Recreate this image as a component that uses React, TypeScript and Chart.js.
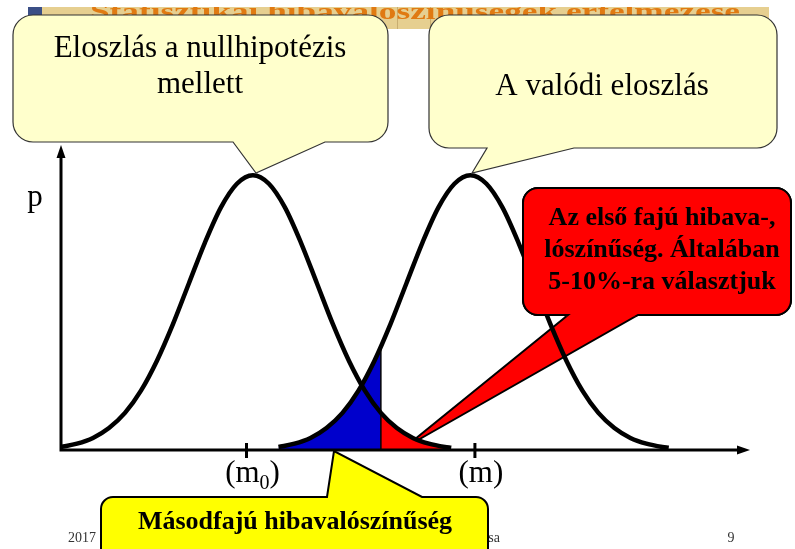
import React, { useEffect, useRef } from "react";
import { Chart, registerables } from "chart.js";

Chart.register(...registerables);

// ---- data (x in units of sigma, y = relative density) ----
const nullCurveX = [0, 0.25, 0.5, 0.75, 1, 1.25, 1.5, 1.75, 2, 2.25, 2.5, 2.75, 3, 3.25, 3.5, 3.75, 4, 4.25, 4.5, 4.75, 5, 5.25, 5.5, 5.75, 6, 6.1];
const nullCurveY = [0.011, 0.023, 0.044, 0.08, 0.135, 0.216, 0.325, 0.458, 0.607, 0.755, 0.883, 0.969, 1.0, 0.969, 0.883, 0.755, 0.607, 0.458, 0.325, 0.216, 0.135, 0.08, 0.044, 0.023, 0.011, 0.008];
const trueCurveX = [3.4, 3.65, 3.9, 4.15, 4.4, 4.65, 4.9, 5.15, 5.4, 5.65, 5.9, 6.15, 6.4, 6.65, 6.9, 7.15, 7.4, 7.65, 7.9, 8.15, 8.4, 8.65, 8.9, 9.15, 9.4, 9.5];
const trueCurveY = [0.011, 0.023, 0.044, 0.08, 0.135, 0.216, 0.325, 0.458, 0.607, 0.755, 0.883, 0.969, 1.0, 0.969, 0.883, 0.755, 0.607, 0.458, 0.325, 0.216, 0.135, 0.08, 0.044, 0.023, 0.011, 0.008];
const betaAreaX = [3.4, 3.65, 3.9, 4.15, 4.4, 4.65, 4.9, 5.0];
const betaAreaY = [0.011, 0.023, 0.044, 0.08, 0.135, 0.216, 0.325, 0.375];
const alphaAreaX = [5.0, 5.25, 5.5, 5.75, 6.0];
const alphaAreaY = [0.135, 0.08, 0.044, 0.023, 0.011];
const thresholdX = 5.0;
const thresholdTop = 0.375;
const tickValues = [2.9, 6.47];
const tickMain = ["(m", "(m"];
const tickSub = ["0", ""];
const xMax = 10.77;
const yMax = 1.11;

const headerTitle = "Statisztikai hibavalószínűségek értelmezése";
const nullLabel = ["Eloszlás a nullhipotézis", "mellett"];
const trueLabel = ["A valódi eloszlás"];
const alphaLabel = ["Az első fajú hibava-,", "lószínűség. Általában", "5-10%-ra választjuk"];
const betaLabel = ["Másodfajú hibavalószínűség"];
const yAxisLabel = "p";
const footerLeft = "2017";
const footerMid = "sa";
const footerRight = "9";

const SERIF = "'Liberation Serif', 'Times New Roman', serif";

function pts(xs: number[], ys: number[]) {
  return xs.map((x, i) => ({ x, y: ys[i] }));
}

function calloutPath(
  ctx: CanvasRenderingContext2D,
  x: number, y: number, w: number, h: number, r: number,
  side: "top" | "bottom", b1: number, b2: number, tx: number, ty: number
) {
  ctx.beginPath();
  ctx.moveTo(x + r, y);
  if (side === "top") {
    ctx.lineTo(b1, y);
    ctx.lineTo(tx, ty);
    ctx.lineTo(b2, y);
  }
  ctx.lineTo(x + w - r, y);
  ctx.arcTo(x + w, y, x + w, y + r, r);
  ctx.lineTo(x + w, y + h - r);
  ctx.arcTo(x + w, y + h, x + w - r, y + h, r);
  if (side === "bottom") {
    ctx.lineTo(b2, y + h);
    ctx.lineTo(tx, ty);
    ctx.lineTo(b1, y + h);
  }
  ctx.lineTo(x + r, y + h);
  ctx.arcTo(x, y + h, x, y + h - r, r);
  ctx.lineTo(x, y + r);
  ctx.arcTo(x, y, x + r, y, r);
  ctx.closePath();
}

const RED_BOX = { x: 523, y: 188, w: 268, h: 127, r: 15 };

function drawRedCallout(ctx: CanvasRenderingContext2D, clipBox: boolean) {
  ctx.save();
  if (clipBox) {
    ctx.beginPath();
    ctx.rect(RED_BOX.x - 5, RED_BOX.y - 5, RED_BOX.w + 10, RED_BOX.h + 6.5);
    ctx.clip();
  }
  calloutPath(ctx, RED_BOX.x, RED_BOX.y, RED_BOX.w, RED_BOX.h, RED_BOX.r, "bottom", 568, 638, 404, 448);
  ctx.fillStyle = "#ff0000";
  ctx.fill();
  ctx.lineWidth = 2;
  ctx.strokeStyle = "#000";
  ctx.lineJoin = "miter";
  ctx.stroke();
  ctx.restore();
}

const drawPlugin = {
  id: "slideDecor",
  beforeDraw(chart: any) {
    const ctx: CanvasRenderingContext2D = chart.ctx;
    ctx.save();
    ctx.fillStyle = "#ffffff";
    ctx.fillRect(0, 0, chart.width, chart.height);
    // header strip
    ctx.fillStyle = "#e6cf90";
    ctx.fillRect(28, 7, 741, 22);
    ctx.fillStyle = "#3b4f86";
    ctx.fillRect(28, 7, 14, 9);
    ctx.strokeStyle = "rgba(170,140,80,0.5)";
    ctx.lineWidth = 1;
    ctx.beginPath();
    ctx.moveTo(397.5, 7); ctx.lineTo(397.5, 29);
    ctx.moveTo(430.5, 7); ctx.lineTo(430.5, 29);
    ctx.stroke();
    ctx.beginPath();
    ctx.rect(28, 7, 741, 22);
    ctx.clip();
    ctx.font = `bold 24px ${SERIF}`;
    ctx.fillStyle = "#e07a12";
    ctx.textBaseline = "alphabetic";
    ctx.textAlign = "left";
    const mw = ctx.measureText(headerTitle).width;
    ctx.translate(90, 19);
    ctx.scale(650 / mw, 1);
    ctx.fillText(headerTitle, 0, 0);
    ctx.restore();

    // footer
    ctx.save();
    ctx.font = `14px ${SERIF}`;
    ctx.fillStyle = "#333";
    ctx.textBaseline = "alphabetic";
    ctx.textAlign = "left";
    ctx.fillText(footerLeft, 68, 542);
    ctx.textAlign = "right";
    ctx.fillText(footerMid, 500, 542);
    ctx.textAlign = "center";
    ctx.fillText(footerRight, 731, 542);
    ctx.restore();
  },
  beforeDatasetsDraw(chart: any) {
    drawRedCallout(chart.ctx, false);
  },
  afterDatasetsDraw(chart: any) {
    const ctx: CanvasRenderingContext2D = chart.ctx;
    const xs = chart.scales.x;
    const ys = chart.scales.y;
    const x0 = xs.getPixelForValue(0);
    const y0 = ys.getPixelForValue(0);
    const xEnd = xs.getPixelForValue(xMax);
    const yTop = ys.getPixelForValue(yMax);
    ctx.save();
    // axes
    ctx.strokeStyle = "#000";
    ctx.fillStyle = "#000";
    ctx.lineWidth = 3;
    ctx.lineCap = "butt";
    ctx.beginPath();
    ctx.moveTo(x0, y0 + 1.5);
    ctx.lineTo(x0, yTop + 10);
    ctx.moveTo(x0 - 1.5, y0);
    ctx.lineTo(xEnd - 10, y0);
    ctx.stroke();
    ctx.beginPath();
    ctx.moveTo(x0, yTop);
    ctx.lineTo(x0 - 4.5, yTop + 13);
    ctx.lineTo(x0 + 4.5, yTop + 13);
    ctx.closePath();
    ctx.fill();
    ctx.beginPath();
    ctx.moveTo(xEnd, y0);
    ctx.lineTo(xEnd - 13, y0 - 4.5);
    ctx.lineTo(xEnd - 13, y0 + 4.5);
    ctx.closePath();
    ctx.fill();
    // ticks + labels
    tickValues.forEach((v, i) => {
      const px = xs.getPixelForValue(v);
      ctx.lineWidth = 3;
      ctx.beginPath();
      ctx.moveTo(px, y0 - 7);
      ctx.lineTo(px, y0 + 8);
      ctx.stroke();
      ctx.textBaseline = "alphabetic";
      ctx.textAlign = "left";
      ctx.font = `31px ${SERIF}`;
      const wMain = ctx.measureText(tickMain[i]).width;
      ctx.font = `20px ${SERIF}`;
      const wSub = tickSub[i] ? ctx.measureText(tickSub[i]).width : 0;
      ctx.font = `31px ${SERIF}`;
      const wClose = ctx.measureText(")").width;
      const total = wMain + wSub + wClose;
      let sx = px + 6 - total / 2;
      ctx.fillText(tickMain[i], sx, 482);
      sx += wMain;
      if (tickSub[i]) {
        ctx.font = `20px ${SERIF}`;
        ctx.fillText(tickSub[i], sx, 489);
        sx += wSub;
        ctx.font = `31px ${SERIF}`;
      }
      ctx.fillText(")", sx, 482);
    });
    // y label
    ctx.font = `31px ${SERIF}`;
    ctx.textAlign = "center";
    ctx.fillText(yAxisLabel, 35, 206);
    ctx.restore();

    // red callout box on top of curves
    drawRedCallout(ctx, true);
    ctx.save();
    ctx.fillStyle = "#000";
    ctx.font = `bold 26px ${SERIF}`;
    ctx.textAlign = "center";
    ctx.textBaseline = "alphabetic";
    alphaLabel.forEach((t, i) => ctx.fillText(t, 662, 225 + i * 32));
    ctx.restore();

    // yellow callouts
    ctx.save();
    ctx.lineJoin = "miter";
    calloutPath(ctx, 13, 15, 375, 127, 20, "bottom", 233, 325, 256, 173);
    ctx.fillStyle = "#ffffcc";
    ctx.fill();
    ctx.strokeStyle = "#333";
    ctx.lineWidth = 1.2;
    ctx.stroke();
    calloutPath(ctx, 429, 15, 348, 133, 20, "bottom", 487, 574, 472, 173);
    ctx.fill();
    ctx.stroke();
    ctx.fillStyle = "#000";
    ctx.font = `31px ${SERIF}`;
    ctx.textAlign = "center";
    ctx.textBaseline = "alphabetic";
    nullLabel.forEach((t, i) => ctx.fillText(t, 200, 57 + i * 36));
    trueLabel.forEach((t, i) => ctx.fillText(t, 602, 95 + i * 36));
    ctx.restore();

    // bottom yellow callout
    ctx.save();
    ctx.lineJoin = "miter";
    calloutPath(ctx, 101, 497, 387, 80, 12, "top", 327, 422, 334, 451);
    ctx.fillStyle = "#ffff00";
    ctx.fill();
    ctx.strokeStyle = "#000";
    ctx.lineWidth = 2;
    ctx.stroke();
    ctx.fillStyle = "#000";
    ctx.font = `bold 26px ${SERIF}`;
    ctx.textAlign = "center";
    ctx.textBaseline = "alphabetic";
    betaLabel.forEach((t) => ctx.fillText(t, 295, 529));
    ctx.restore();
  },
};

export default function App() {
  const ref = useRef<HTMLCanvasElement | null>(null);
  useEffect(() => {
    document.body.style.margin = "0";
    const canvas = ref.current!;
    const chart = new Chart(canvas, {
      type: "line",
      data: {
        datasets: [
          {
            label: "H0",
            data: pts(nullCurveX, nullCurveY),
            borderColor: "#000",
            borderWidth: 4.5,
            pointRadius: 0,
            fill: false,
            cubicInterpolationMode: "monotone",
            order: 0,
          },
          {
            label: "true",
            data: pts(trueCurveX, trueCurveY),
            borderColor: "#000",
            borderWidth: 4.5,
            pointRadius: 0,
            fill: false,
            cubicInterpolationMode: "monotone",
            order: 0,
          },
          {
            label: "threshold",
            data: [{ x: thresholdX, y: 0 }, { x: thresholdX, y: thresholdTop }],
            borderColor: "#000",
            borderWidth: 1.5,
            pointRadius: 0,
            fill: false,
            order: 1,
          },
          {
            label: "beta",
            data: pts(betaAreaX, betaAreaY),
            borderColor: "#0000cc",
            borderWidth: 0,
            backgroundColor: "#0000cc",
            pointRadius: 0,
            fill: "origin",
            cubicInterpolationMode: "monotone",
            order: 2,
          },
          {
            label: "alpha",
            data: pts(alphaAreaX, alphaAreaY),
            borderColor: "#ff0000",
            borderWidth: 0,
            backgroundColor: "#ff0000",
            pointRadius: 0,
            fill: "origin",
            cubicInterpolationMode: "monotone",
            order: 2,
          },
        ],
      } as any,
      options: {
        animation: false,
        responsive: false,
        devicePixelRatio: 1,
        clip: false as any,
        layout: { padding: { left: 61, right: 45, top: 145, bottom: 99 } },
        plugins: { legend: { display: false }, tooltip: { enabled: false }, title: { display: false } },
        events: [],
        scales: {
          x: { type: "linear", min: 0, max: xMax, display: false },
          y: { type: "linear", min: 0, max: yMax, display: false },
        },
      },
      plugins: [drawPlugin],
    });
    return () => chart.destroy();
  }, []);
  return (
    <div style={{ width: 795, height: 549 }}>
      <canvas ref={ref} width={795} height={549} style={{ display: "block" }} />
    </div>
  );
}
